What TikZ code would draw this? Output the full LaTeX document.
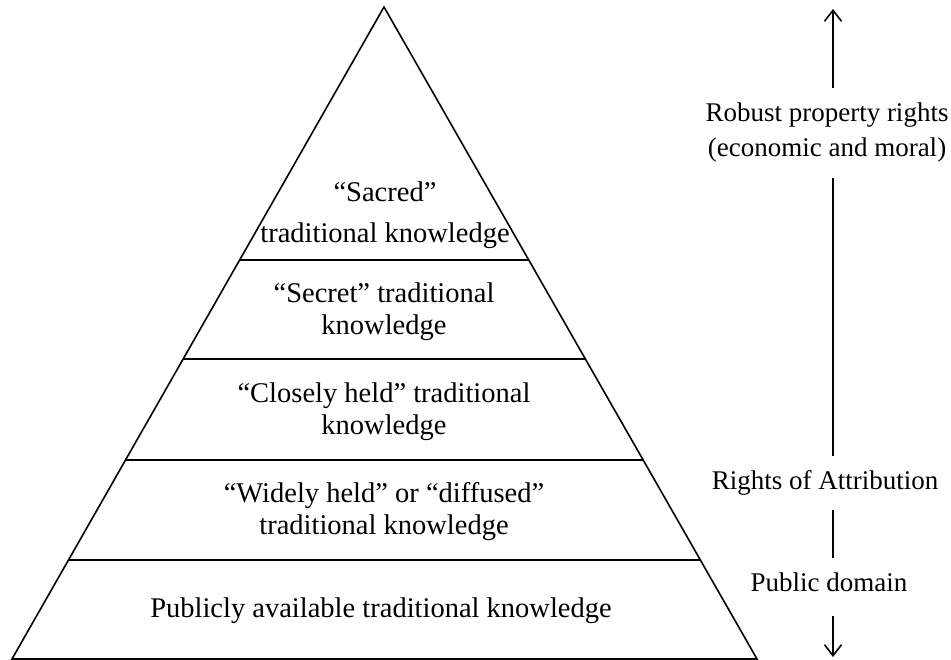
\documentclass[tikz,border=0pt]{standalone}
\usepackage{fontspec}
\setmainfont{Liberation Serif}
\usetikzlibrary{calc,arrows.meta}

\tikzset{
  tier/.style={align=center, font=\fontsize{28.5}{32}\selectfont, inner sep=0pt},
  side/.style={align=center, font=\fontsize{27}{35}\selectfont, inner xsep=0pt, inner ysep=14pt},
  tip/.style={-{Straight Barb[length=11pt,width=17pt]}}
}

\begin{document}
\begin{tikzpicture}[x=1pt, y=-1pt, line width=1.6pt]
\useasboundingbox (0,0) rectangle (951,660);

% pyramid
\coordinate (apex)  at (384,   7);
\coordinate (baseL) at ( 12, 659);
\coordinate (baseR) at (757, 659);
\draw (apex) -- (baseL) -- (baseR) -- cycle;

\draw ($(apex)!0.388!(baseL)$) -- ($(apex)!0.388!(baseR)$);
\draw ($(apex)!0.540!(baseL)$) -- ($(apex)!0.540!(baseR)$);
\draw ($(apex)!0.695!(baseL)$) -- ($(apex)!0.695!(baseR)$);
\draw ($(apex)!0.848!(baseL)$) -- ($(apex)!0.848!(baseR)$);

\node[tier] (sacred)  at (385, 215) {“Sacred”\\[9pt]traditional knowledge};
\node[tier] (secret)  at (384, 312) {“Secret” traditional\\knowledge};
\node[tier] (closely) at (384, 412) {“Closely held” traditional\\knowledge};
\node[tier] (widely)  at (384, 512) {“Widely held” or “diffused”\\traditional knowledge};
\node[tier] (public)  at (381, 611) {Publicly available traditional knowledge};

% scale of rights
\coordinate (top)    at (833,   9);
\coordinate (bottom) at (833, 657);
\node[side] (robust) at (827, 133) {Robust property rights\\(economic and moral)};
\node[side] (attrib) at (825, 483) {Rights of Attribution};
\node[side] (pubdom) at (829, 582) {Public domain};

\draw[tip] (robust.north -| top) -- (top);
\draw (robust.south -| top) -- (attrib.north -| top);
\draw (attrib.south -| top) -- (pubdom.north -| top);
\draw[tip, shorten <=10pt] (pubdom.south -| top) -- (bottom);

\end{tikzpicture}
\end{document}
